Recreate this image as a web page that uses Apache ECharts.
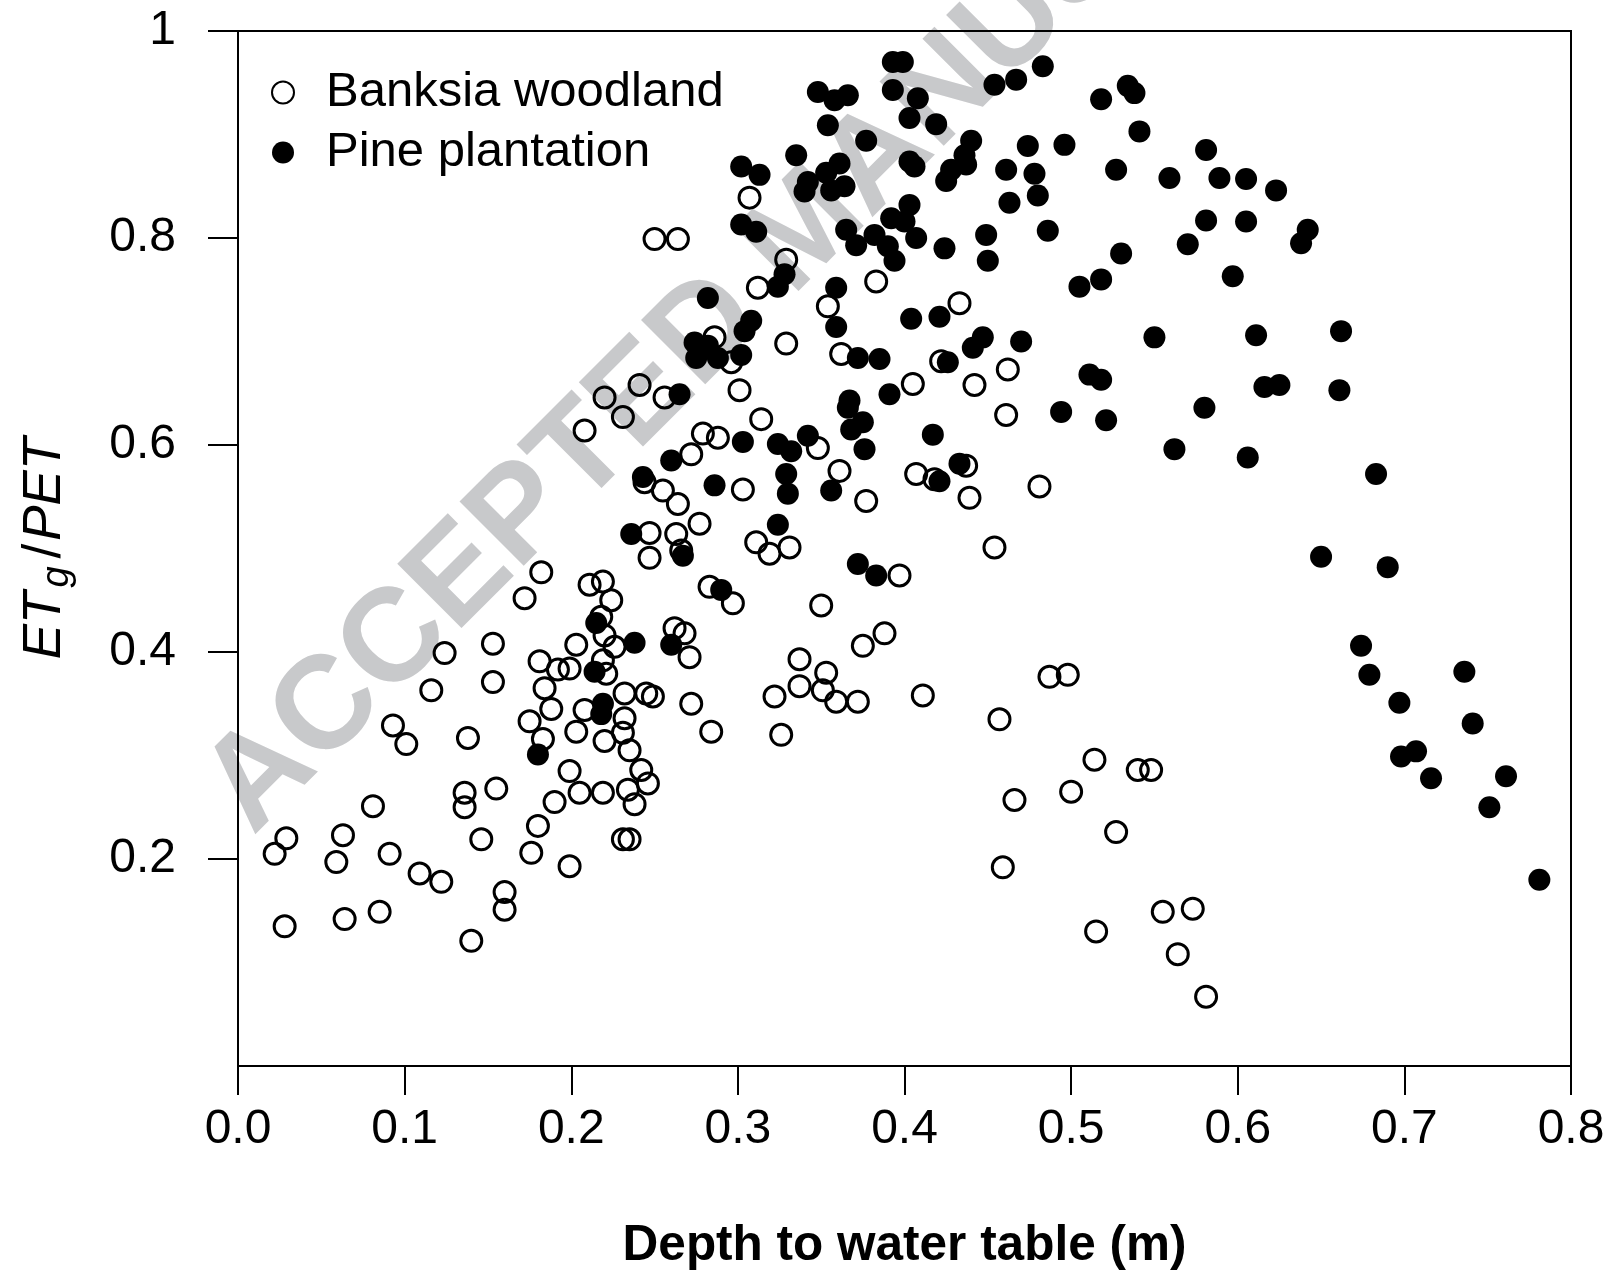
<!DOCTYPE html>
<html>
<head>
<meta charset="utf-8">
<script src="https://cdn.jsdelivr.net/npm/echarts@6/dist/echarts.min.js"></script>
<style>
html,body{margin:0;padding:0;background:#fff;}
#chart{width:1612px;height:1276px;}
</style>
</head>
<body>
<div id="chart"></div>
<script>
// Banksia woodland (open circles): [depth to water table (m), ETg/PET]
const banksia = [
[0.307,0.839],[0.250,0.799],[0.264,0.799],[0.354,0.734],[0.383,0.758],[0.329,0.779],[0.312,0.752],[0.286,0.704],[0.329,0.698],[0.362,0.688],
[0.433,0.737],[0.422,0.681],[0.462,0.673],
[0.405,0.659],[0.442,0.658],[0.461,0.629],[0.437,0.580],[0.407,0.572],[0.418,0.567],[0.439,0.549],[0.481,0.560],[0.454,0.501],[0.397,0.474],[0.487,0.376],[0.498,0.378],[0.411,0.358],
[0.457,0.335],[0.514,0.296],[0.540,0.286],[0.548,0.286],[0.466,0.257],[0.500,0.265],[0.527,0.226],[0.459,0.192],[0.555,0.149],[0.573,0.152],[0.515,0.130],[0.564,0.108],[0.581,0.067],
[0.296,0.680],[0.241,0.658],[0.220,0.646],[0.256,0.646],[0.301,0.653],[0.231,0.627],[0.208,0.614],[0.314,0.625],
[0.279,0.611],[0.288,0.607],[0.348,0.597],[0.272,0.591],[0.361,0.575],[0.377,0.546],
[0.244,0.564],[0.255,0.556],[0.264,0.543],[0.303,0.557],[0.277,0.524],[0.247,0.515],[0.263,0.514],
[0.311,0.506],[0.319,0.495],[0.331,0.501],[0.247,0.491],[0.266,0.498],
[0.219,0.468],[0.211,0.465],[0.224,0.450],[0.283,0.463],[0.297,0.447],[0.350,0.445],
[0.218,0.434],[0.220,0.416],[0.226,0.405],[0.262,0.423],[0.268,0.418],[0.271,0.395],[0.203,0.407],[0.219,0.392],[0.221,0.379],[0.199,0.384],
[0.375,0.406],[0.388,0.418],[0.337,0.393],[0.353,0.380],[0.337,0.367],[0.351,0.363],[0.359,0.352],[0.372,0.352],[0.322,0.357],[0.272,0.350],
[0.232,0.360],[0.245,0.360],[0.249,0.357],
[0.208,0.344],[0.232,0.336],[0.203,0.323],[0.220,0.314],[0.231,0.322],[0.235,0.305],[0.242,0.286],[0.246,0.273],[0.199,0.285],[0.205,0.264],[0.219,0.264],[0.234,0.267],[0.238,0.253],[0.231,0.219],[0.235,0.219],[0.199,0.193],[0.284,0.323],[0.326,0.320],
[0.093,0.329],[0.101,0.311],[0.138,0.317],[0.175,0.333],[0.188,0.345],[0.183,0.316],[0.190,0.255],[0.180,0.232],[0.176,0.206],[0.136,0.264],[0.136,0.250],[0.155,0.268],[0.146,0.219],[0.081,0.251],[0.029,0.220],[0.022,0.205],[0.063,0.223],[0.059,0.197],[0.091,0.205],[0.109,0.186],[0.122,0.178],[0.160,0.168],[0.160,0.151],[0.028,0.135],[0.064,0.142],[0.085,0.149],[0.140,0.121],
[0.182,0.477],[0.172,0.452],[0.124,0.399],[0.153,0.408],[0.116,0.363],[0.153,0.371],[0.181,0.391],[0.192,0.383],[0.184,0.365]
];

// Pine plantation (filled circles)
const pine = [
[0.393,0.970],[0.399,0.970],[0.348,0.941],[0.358,0.933],[0.366,0.938],[0.393,0.943],[0.354,0.909],[0.377,0.894],[0.335,0.880],[0.302,0.869],[0.313,0.861],[0.342,0.854],[0.340,0.845],[0.361,0.872],[0.353,0.863],[0.364,0.850],[0.356,0.846],[0.302,0.813],[0.311,0.806],[0.365,0.808],[0.371,0.793],[0.382,0.803],[0.390,0.792],[0.394,0.778],[0.392,0.819],[0.359,0.752],[0.328,0.765],[0.324,0.753],[0.282,0.742],[0.308,0.720],[0.304,0.710],[0.274,0.699],[0.282,0.696],[0.288,0.684],[0.275,0.684],[0.302,0.687],[0.359,0.714],[0.372,0.684],[0.385,0.683],
[0.454,0.948],[0.467,0.953],[0.483,0.966],[0.408,0.935],[0.403,0.916],[0.419,0.910],[0.440,0.894],[0.436,0.880],[0.437,0.871],[0.428,0.866],[0.425,0.855],[0.403,0.874],[0.406,0.869],[0.474,0.889],[0.496,0.890],[0.461,0.866],[0.478,0.862],[0.480,0.841],[0.463,0.834],[0.403,0.832],[0.400,0.816],[0.407,0.800],[0.424,0.790],[0.449,0.803],[0.450,0.778],[0.486,0.807],[0.518,0.934],[0.534,0.947],[0.538,0.940],[0.541,0.903],[0.527,0.866],[0.581,0.885],[0.559,0.858],[0.589,0.858],[0.581,0.817],[0.570,0.794],[0.530,0.785],[0.597,0.763],[0.518,0.760],[0.505,0.753],[0.550,0.704],[0.404,0.722],[0.421,0.724],[0.447,0.704],[0.441,0.694],[0.470,0.700],[0.426,0.680],[0.511,0.668],[0.518,0.663],
[0.605,0.857],[0.623,0.846],[0.605,0.816],[0.642,0.808],[0.638,0.795],[0.611,0.706],[0.662,0.710],
[0.616,0.656],[0.625,0.658],[0.661,0.653],[0.606,0.588],[0.683,0.572],[0.650,0.492],[0.690,0.482],[0.674,0.406],[0.679,0.378],[0.736,0.381],[0.697,0.351],
[0.741,0.331],[0.698,0.299],[0.707,0.304],[0.716,0.278],[0.761,0.280],[0.751,0.250],[0.781,0.180],
[0.494,0.632],[0.521,0.624],[0.580,0.636],[0.562,0.596],[0.417,0.610],[0.433,0.582],[0.421,0.565],
[0.265,0.649],[0.367,0.643],[0.366,0.636],[0.391,0.649],[0.375,0.622],[0.368,0.615],[0.376,0.596],[0.303,0.603],[0.324,0.601],[0.332,0.594],[0.342,0.609],[0.260,0.585],[0.329,0.572],[0.330,0.553],[0.356,0.556],[0.243,0.569],[0.286,0.561],[0.324,0.523],[0.236,0.514],[0.267,0.493],[0.372,0.485],[0.383,0.474],[0.290,0.460],[0.215,0.428],[0.238,0.409],[0.260,0.407],[0.214,0.381],[0.219,0.350],[0.218,0.340],[0.180,0.301]
];

const xTickValues = [0, 0.1, 0.2, 0.3, 0.4, 0.5, 0.6, 0.7, 0.8];
const yTickValues = [0.2, 0.4, 0.6, 0.8, 1];
const seriesNames = ['Banksia woodland', 'Pine plantation'];
const xTitle = 'Depth to water table (m)';
const watermark = 'ACCEPTED MANUSCRIPT';

const FONT = '"Liberation Sans", Arial, Helvetica, sans-serif';
const chart = echarts.init(document.getElementById('chart'), null, {renderer: 'canvas'});

chart.setOption({
  animation: false,
  backgroundColor: '#ffffff',
  textStyle: {fontFamily: FONT},
  graphic: [{
    type: 'text',
    x: 808, y: 230,
    rotation: Math.PI / 4,
    z: -10,
    silent: true,
    style: {
      text: watermark,
      fontSize: 132,
      fontWeight: 'bold',
      fontFamily: FONT,
      fill: '#c8c9cb',
      align: 'center',
      verticalAlign: 'middle'
    }
  }],
  grid: {
    left: 238, right: 41, top: 31, bottom: 208,
    show: true, borderColor: '#000', borderWidth: 2,
    backgroundColor: 'transparent'
  },
  legend: {
    data: seriesNames,
    orient: 'vertical',
    left: 271, top: 68,
    padding: 0,
    itemWidth: 22, itemHeight: 22, itemGap: 11,
    selectedMode: false,
    textStyle: {fontSize: 49, color: '#000', fontFamily: FONT, lineHeight: 49, padding: [0, 0, 0, 27]}
  },
  xAxis: {
    type: 'value', min: 0, max: 0.8, interval: 0.1,
    name: xTitle, nameLocation: 'middle', nameGap: 155,
    nameTextStyle: {fontSize: 49.5, fontWeight: 'bold', color: '#000', fontFamily: FONT},
    axisLine: {show: true, onZero: false, lineStyle: {color: '#000', width: 2}},
    axisTick: {show: true, inside: false, length: 29, lineStyle: {color: '#000', width: 2}, customValues: xTickValues},
    axisLabel: {fontSize: 48, color: '#000', margin: 40, fontFamily: FONT, customValues: xTickValues,
      formatter: v => Number(v).toFixed(1)},
    splitLine: {show: false}
  },
  yAxis: {
    type: 'value', min: 0, max: 1, interval: 0.2,
    name: '{a|ET}{s|g}{b|/}{a|PET}', nameLocation: 'middle', nameGap: 162, nameRotate: 90,
    nameTextStyle: {
      fontSize: 53, fontStyle: 'italic', color: '#000', fontFamily: FONT,
      rich: {
        a: {fontSize: 53, fontStyle: 'italic', color: '#000', fontFamily: FONT},
        b: {fontSize: 53, fontStyle: 'normal', color: '#000', fontFamily: FONT, padding: [0, 3, 0, 0]},
        s: {fontSize: 38, fontStyle: 'italic', color: '#000', fontFamily: FONT, padding: [24, 8, 0, 4]}
      }
    },
    axisLine: {show: true, onZero: false, lineStyle: {color: '#000', width: 2}},
    axisTick: {show: true, inside: false, length: 30, lineStyle: {color: '#000', width: 2}, customValues: yTickValues},
    axisLabel: {fontSize: 48, color: '#000', margin: 62, fontFamily: FONT, customValues: yTickValues,
      formatter: v => (Math.abs(v - 1) < 1e-9 ? '1' : Number(v).toFixed(1))},
    splitLine: {show: false}
  },
  series: [
    {
      type: 'scatter', name: seriesNames[0], data: banksia,
      symbol: 'circle', symbolSize: 21, z: 3, silent: true,
      itemStyle: {color: 'rgba(255,255,255,0)', borderColor: '#000', borderWidth: 3, opacity: 1},
      emphasis: {disabled: true}
    },
    {
      type: 'scatter', name: seriesNames[1], data: pine,
      symbol: 'circle', symbolSize: 22, z: 4, silent: true,
      itemStyle: {color: '#000', opacity: 1},
      emphasis: {disabled: true}
    }
  ]
});
</script>
</body>
</html>
